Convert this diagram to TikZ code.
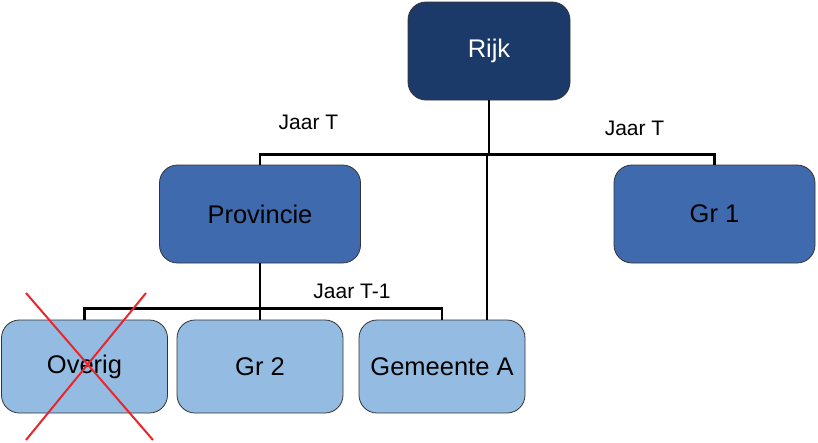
\documentclass[tikz,border=0pt]{standalone}
\usepackage{fontspec}
\setmainfont{Liberation Sans}
\usetikzlibrary{positioning,calc}

\definecolor{navy}{HTML}{1C3A69}
\definecolor{midblue}{HTML}{3F6BAE}
\definecolor{lightblue}{HTML}{94BCE2}
\definecolor{edge}{HTML}{333333}
\definecolor{crossred}{HTML}{E8262B}

\begin{document}
\begin{tikzpicture}[
    x=1pt, y=-1pt,
    box/.style={draw=edge, line width=0.8pt, rounded corners=18pt, align=center, font=\fontsize{25.5}{30}\selectfont, inner sep=0pt},
    top/.style={box, fill=navy, text=white, minimum width=162pt, minimum height=98pt},
    mid/.style={box, fill=midblue, minimum width=201pt, minimum height=98pt},
    low/.style={box, fill=lightblue, minimum width=166pt, minimum height=93pt},
    conn/.style={line width=2.8pt, line join=miter},
    lbl/.style={font=\fontsize{21}{25}\selectfont}
]

\useasboundingbox (0,0) rectangle (818,442);

% Top level
\node[top] (rijk) at (489,51) {Rijk};

% Second level
\node[mid] (prov) at (260,214) {Provincie};
\node[mid] (gr1) at (714.5,214) {Gr 1};

% Third level
\node[low] (overig) at (84.5,366.5) {Overig};
\node[low] (gr2) at (260,366.5) {Gr 2};
\node[low] (gem) at (442,366.5) {Gemeente A};

% Labels
\node[lbl] (jaart) at (308.5,122) {Jaar T};
\node[lbl] (jaartb) at (634.5,128) {Jaar T};
\node[lbl] (jaartmin) at (352,291) {Jaar T-1};

% Connectors
\coordinate (tbus) at (489,155);
\coordinate (gemin) at ([xshift=45pt]gem.north);
\draw[conn] (rijk.south) -- (tbus);
\draw[conn] (prov.north) -- ++(0,-10) -| (gr1.north);
\draw[conn] (gemin |- tbus) -- (gemin);
\draw[conn] (prov.south) -- (gr2.north);
\draw[conn] (overig.north) -- ++(0,-11) -| (gem.north);

% Crossed out
\draw[crossred, line width=2pt] (26,293) -- (153,440);
\draw[crossred, line width=2pt] (146,293) -- (26,440);

\end{tikzpicture}
\end{document}
